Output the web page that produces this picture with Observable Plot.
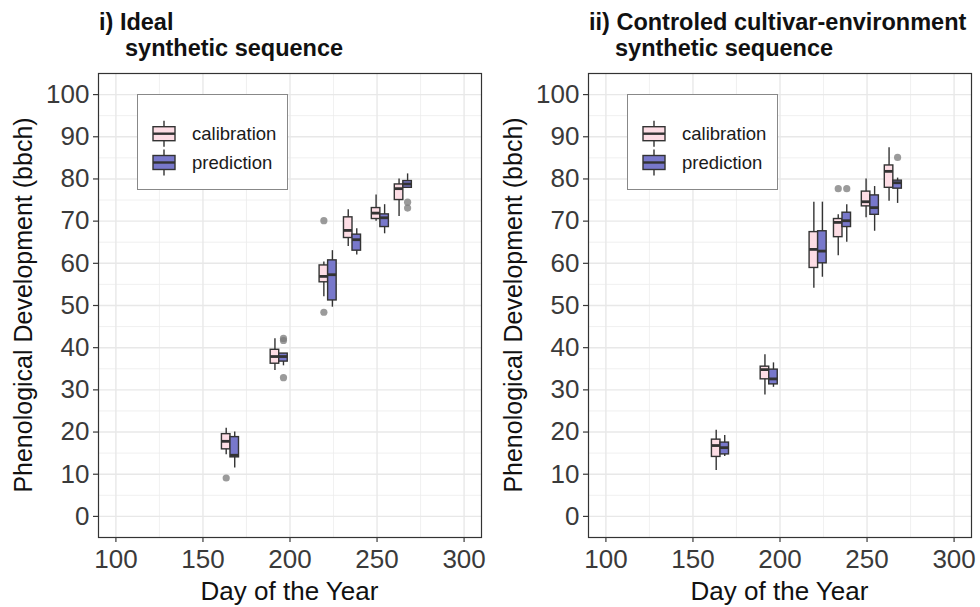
<!DOCTYPE html>
<html>
<head>
<meta charset="utf-8">
<script src="https://cdn.jsdelivr.net/npm/d3@7"></script>
<script src="https://cdn.jsdelivr.net/npm/@observablehq/plot@0.6"></script>
<style>
  html, body { margin: 0; padding: 0; background: #ffffff; }
  #wrap { display: flex; flex-direction: row; width: 980px; height: 607px; }
  #wrap svg { display: block; }
</style>
</head>
<body>
<div id="wrap"></div>
<script>
// ---------- data ----------
const seriesNames = ["calibration", "prediction"];
const days = [165.8, 193.8, 221.9, 235.9, 251.9, 265.1];

// five-number summaries: [lower whisker, Q1, median, Q3, upper whisker]
const idealCalibration = [
  [14.6, 15.9, 17.8, 19.5, 20.9],
  [34.6, 36.2, 37.9, 39.5, 42.1],
  [52.1, 55.5, 56.9, 59.5, 60.3],
  [64.0, 66.0, 67.8, 70.9, 72.7],
  [70.0, 70.5, 71.9, 73.1, 76.2],
  [71.1, 75.0, 77.7, 78.7, 80.0]
];
const idealPrediction = [
  [11.5, 14.0, 14.5, 18.8, 20.0],
  [35.7, 36.7, 37.9, 38.6, 38.6],
  [49.6, 51.2, 57.3, 60.7, 63.0],
  [62.0, 63.0, 65.6, 66.8, 68.2],
  [67.0, 68.6, 70.8, 71.6, 73.9],
  [77.9, 77.9, 78.8, 79.5, 81.2]
];
const idealOutlierGroup = [0, 1, 1, 1, 2, 2, 5, 5];
const idealOutlierSeries = ["calibration", "prediction", "prediction", "prediction", "calibration", "calibration", "prediction", "prediction"];
const idealOutlierValue = [9.1, 42.2, 41.7, 32.9, 70.1, 48.4, 74.5, 73.1];

const ctrlCalibration = [
  [10.9, 14.1, 16.8, 18.2, 20.4],
  [28.8, 32.5, 34.8, 35.5, 38.3],
  [54.1, 58.9, 63.3, 67.4, 74.5],
  [61.8, 66.2, 69.7, 70.5, 71.5],
  [70.8, 73.5, 74.6, 77.0, 80.0],
  [74.7, 77.9, 81.8, 83.2, 87.4]
];
const ctrlPrediction = [
  [14.2, 14.7, 16.3, 17.5, 19.2],
  [30.6, 31.3, 32.6, 34.8, 36.4],
  [56.7, 60.0, 62.9, 67.6, 74.5],
  [65.0, 68.6, 70.1, 72.0, 73.9],
  [67.6, 71.5, 73.2, 76.1, 78.2],
  [74.2, 77.7, 79.1, 79.6, 80.2]
];
const ctrlOutlierGroup = [3, 3, 5];
const ctrlOutlierSeries = ["calibration", "prediction", "prediction"];
const ctrlOutlierValue = [77.7, 77.7, 85.1];

const xTicks = [100, 150, 200, 250, 300];
const xMinor = [125, 175, 225, 275];
const yTicks = [0, 10, 20, 30, 40, 50, 60, 70, 80, 90, 100];
const yMinor = [5, 15, 25, 35, 45, 55, 65, 75, 85, 95];

const titleLine1 = ["i) Ideal", "ii) Controled cultivar-environment"];
const titleLine2 = ["synthetic sequence", "synthetic sequence"];
const xTitle = "Day of the Year";
const yTitle = "Phenological Development (bbch)";

// ---------- styling ----------
const FONT = "'Liberation Sans', Arial, Helvetica, sans-serif";
const COLORS = ["#fddde5", "#7878cb"];
const DODGE = 2.45;   // days
const HALF = 2.45;    // half box width, days
const TICK_FONT = 26;

function buildRows(cal, pred) {
  const rows = [];
  [cal, pred].forEach((arr, si) => {
    arr.forEach((s, i) => {
      rows.push({
        series: seriesNames[si],
        x: days[i] + (si === 0 ? -DODGE : DODGE),
        low: s[0], q1: s[1], med: s[2], q3: s[3], high: s[4]
      });
    });
  });
  return rows;
}
function buildOutliers(g, s, v) {
  return v.map((val, i) => ({
    series: s[i],
    x: days[g[i]] + (s[i] === "calibration" ? -DODGE : DODGE),
    y: val
  }));
}

function panel(idx, cal, pred, og, os, ov) {
  const rows = buildRows(cal, pred);
  const outs = buildOutliers(og, os, ov);
  const chart = Plot.plot({
    width: 490,
    height: 607,
    marginLeft: 98,
    marginRight: 9,
    marginTop: 73,
    marginBottom: 70,
    style: { fontFamily: FONT, background: "#ffffff", overflow: "visible" },
    x: { domain: [90, 310] },
    y: { domain: [-5, 105] },
    color: { domain: seriesNames, range: COLORS },
    marks: [
      Plot.gridX(xMinor, { stroke: "#ececec", strokeOpacity: 1, strokeWidth: 0.8 }),
      Plot.gridY(yMinor, { stroke: "#ececec", strokeOpacity: 1, strokeWidth: 0.8 }),
      Plot.gridX(xTicks, { stroke: "#e8e8e8", strokeOpacity: 1, strokeWidth: 1.4 }),
      Plot.gridY(yTicks, { stroke: "#e8e8e8", strokeOpacity: 1, strokeWidth: 1.4 }),
      Plot.ruleX(rows, { x: "x", y1: "low", y2: "high", stroke: "#333333", strokeWidth: 1.4 }),
      Plot.rect(rows, {
        x1: d => d.x - HALF, x2: d => d.x + HALF, y1: "q1", y2: "q3",
        fill: "series", stroke: "#333333", strokeWidth: 1.4
      }),
      Plot.ruleY(rows, {
        y: "med", x1: d => d.x - HALF, x2: d => d.x + HALF,
        stroke: "#333333", strokeWidth: 2.8
      }),
      Plot.dot(outs, { x: "x", y: "y", r: 3.6, fill: "#7a7a7a", fillOpacity: 0.75, stroke: "none" }),
      Plot.frame({ stroke: "#333333", strokeWidth: 1.2 }),
      Plot.axisX(xTicks, {
        tickSize: 5, tickPadding: 7, label: null, fontSize: TICK_FONT,
        color: "#3a3a3a", strokeWidth: 1.2
      }),
      Plot.axisY(yTicks, {
        tickSize: 5, tickPadding: 4, label: null, fontSize: TICK_FONT,
        color: "#3a3a3a", strokeWidth: 1.2
      })
    ]
  });

  const svg = d3.select(chart);
  // tick labels (only the axis texts exist at this point)
  svg.selectAll("text").style("font-size", TICK_FONT + "px");

  const addText = (x, y, txt, size, weight, anchor) =>
    svg.append("text").attr("x", x).attr("y", y)
      .attr("text-anchor", anchor).style("text-anchor", anchor)
      .attr("font-family", FONT).attr("font-weight", weight)
      .attr("font-size", size).style("font-size", size + "px")
      .attr("fill", "#111111").text(txt);

  // panel title
  addText(99, 29.5, titleLine1[idx], 23.5, "bold", "start");
  addText(125, 56, titleLine2[idx], 23.5, "bold", "start");
  // axis titles
  addText(289.5, 600, xTitle, 26, "normal", "middle");
  svg.append("text").attr("transform", "translate(32,305) rotate(-90)")
    .attr("text-anchor", "middle").style("text-anchor", "middle")
    .attr("font-family", FONT).attr("font-size", 25).style("font-size", "25px")
    .attr("fill", "#111111").text(yTitle);

  // legend
  const lg = svg.append("g");
  lg.append("rect").attr("x", 137.5).attr("y", 94.5).attr("width", 150).attr("height", 95)
    .attr("fill", "#ffffff").attr("stroke", "#888888").attr("stroke-width", 1);
  const keyY = [133.7, 162.5];
  seriesNames.forEach((name, i) => {
    const cy = keyY[i];
    lg.append("line").attr("x1", 164).attr("x2", 164).attr("y1", cy - 13).attr("y2", cy + 13)
      .attr("stroke", "#333").attr("stroke-width", 1.4);
    lg.append("rect").attr("x", 153).attr("y", cy - 7).attr("width", 22).attr("height", 14)
      .attr("fill", COLORS[i]).attr("stroke", "#333").attr("stroke-width", 1.4);
    lg.append("line").attr("x1", 153).attr("x2", 175).attr("y1", cy).attr("y2", cy)
      .attr("stroke", "#333").attr("stroke-width", 2.4);
    lg.append("text").attr("x", 192).attr("y", cy + 6.5)
      .attr("text-anchor", "start").style("text-anchor", "start")
      .attr("font-family", FONT).attr("font-size", 18.5).style("font-size", "18.5px")
      .attr("fill", "#1a1a1a").text(name);
  });
  return chart;
}

const wrap = document.getElementById("wrap");
wrap.appendChild(panel(0, idealCalibration, idealPrediction, idealOutlierGroup, idealOutlierSeries, idealOutlierValue));
wrap.appendChild(panel(1, ctrlCalibration, ctrlPrediction, ctrlOutlierGroup, ctrlOutlierSeries, ctrlOutlierValue));
</script>
</body>
</html>
